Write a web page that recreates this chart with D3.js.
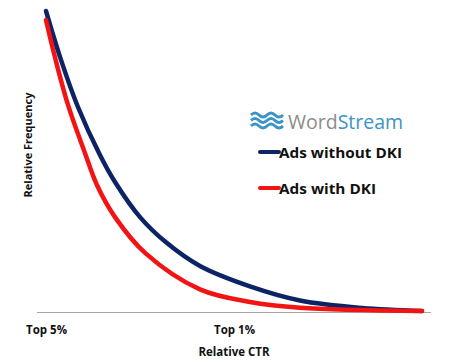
<!DOCTYPE html>
<html>
<head>
<meta charset="utf-8">
<script src="https://cdn.jsdelivr.net/npm/d3@7"></script>
<style>
  body { margin: 0; background: #fff; }
  svg { display: block; font-family: "Open Sans", "Liberation Sans", sans-serif; }
</style>
</head>
<body>
<div id="chart"></div>
<script>
// 相对位置（0 = Top 5%, 1 = Top 1%）
const navyPos = [0, 0.074, 0.17, 0.287, 0.367, 0.5, 0.64, 0.819, 1.085, 1.351, 1.681, 2.0];
const withoutDki = [1.0, 0.848, 0.68, 0.52, 0.43, 0.313, 0.228, 0.15, 0.082, 0.035, 0.01, 0.0];
const redPos = [0, 0.048, 0.117, 0.207, 0.271, 0.367, 0.53, 0.819, 1.085, 1.351, 2.0];
const withDki = [0.97, 0.845, 0.687, 0.527, 0.42, 0.313, 0.192, 0.072, 0.03, 0.011, 0.0];
const tickVals = [0, 1];
const tickLabels = ["Top 5%", "Top 1%"];
const seriesNames = ["Ads without DKI", "Ads with DKI"];
const seriesColors = ["#0c2466", "#f21313"];

const width = 458;
const height = 362;

const svg = d3.select("#chart").append("svg")
    .attr("width", width)
    .attr("height", height);

const x = d3.scaleLinear().domain([0, 2]).range([46, 422]);
const y = d3.scaleLinear().domain([0, 1]).range([311, 11]);

// 横轴线
svg.append("line")
    .attr("x1", 37).attr("x2", 431)
    .attr("y1", 312.5).attr("y2", 312.5)
    .attr("stroke", "#a6a6a6")
    .attr("stroke-width", 1);

const xAxis = d3.axisBottom(x)
    .tickValues(tickVals)
    .tickFormat((d, i) => tickLabels[i])
    .tickSize(0)
    .tickPadding(14);

const gx = svg.append("g")
    .attr("transform", "translate(0,312)")
    .call(xAxis);
gx.select(".domain").remove();
gx.selectAll("text")
    .attr("font-family", "'Open Sans', sans-serif")
    .attr("font-size", 11.5)
    .attr("font-weight", "bold")
    .attr("fill", "#111");

svg.append("text")
    .attr("x", 234).attr("y", 356)
    .attr("text-anchor", "middle")
    .attr("font-size", 11.5)
    .attr("font-weight", "bold")
    .attr("fill", "#111")
    .text("Relative CTR");

svg.append("text")
    .attr("transform", "translate(32,145) rotate(-90)")
    .attr("text-anchor", "middle")
    .attr("font-size", 11)
    .attr("font-weight", "bold")
    .attr("fill", "#111")
    .text("Relative Frequency");

const line = d3.line()
    .x(d => x(d[0]))
    .y(d => y(d[1]))
    .curve(d3.curveCatmullRom.alpha(0.5));

const series = [
    navyPos.map((p, j) => [p, withoutDki[j]]),
    redPos.map((p, j) => [p, withDki[j]])
];

series.forEach((pts, i) => {
    svg.append("path")
        .datum(pts)
        .attr("d", line)
        .attr("fill", "none")
        .attr("stroke", seriesColors[i])
        .attr("stroke-width", 4.5)
        .attr("stroke-linecap", "round");
});

// WordStream 标志
const logo = svg.append("g").attr("transform", "translate(251,113)");
[0, 5.5, 11].forEach(dy => {
    logo.append("path")
        .attr("d", `M0,${dy + 2} q4,-4 8,0 t8,0 t8,0 t8,0`)
        .attr("fill", "none")
        .attr("stroke", "#3a94c6")
        .attr("stroke-width", 3);
});
const brand = svg.append("text")
    .attr("x", 288).attr("y", 129)
    .attr("font-family", "'Open Sans', sans-serif")
    .attr("font-size", 19.5);
brand.append("tspan").attr("fill", "#8c8c8c").text("Word");
brand.append("tspan").attr("fill", "#3a94c6").text("Stream");

// 图例
const legendY = [152, 188];
seriesNames.forEach((name, i) => {
    svg.append("line")
        .attr("x1", 260).attr("x2", 279)
        .attr("y1", legendY[i]).attr("y2", legendY[i])
        .attr("stroke", seriesColors[i])
        .attr("stroke-width", 4)
        .attr("stroke-linecap", "round");
    svg.append("text")
        .attr("x", 279).attr("y", legendY[i] + 5.5)
        .attr("font-family", "'Open Sans', sans-serif")
        .attr("font-size", 15)
        .attr("font-weight", "bold")
        .attr("fill", "#111")
        .attr("textLength", i === 0 ? 123 : 97)
        .attr("lengthAdjust", "spacingAndGlyphs")
        .text(name);
});
</script>
</body>
</html>
